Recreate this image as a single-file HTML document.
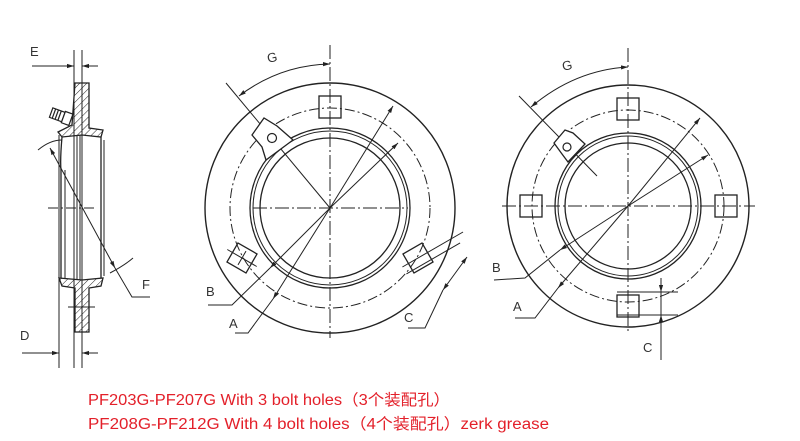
<!DOCTYPE html>
<html><head><meta charset="utf-8"><style>
html,body{margin:0;padding:0;background:#fff;}
svg{display:block}
.t{font-family:"Liberation Sans","Noto Sans CJK SC",sans-serif;font-size:15.5px;fill:#e3202a}
.l{font-family:"Liberation Sans",sans-serif;font-size:13px;fill:#333}
</style></head><body>
<svg width="800" height="441" viewBox="0 0 800 441" xmlns="http://www.w3.org/2000/svg">
<defs>
<marker id="a" viewBox="0 0 10 10" refX="10" refY="5" markerWidth="7" markerHeight="7" orient="auto-start-reverse"><path d="M0,2 L10,5 L0,8z" fill="#222"/></marker>
<pattern id="h" width="5" height="5" patternUnits="userSpaceOnUse" patternTransform="rotate(45)"><line x1="0" y1="0" x2="0" y2="5" stroke="#222" stroke-width="1"/></pattern>
</defs>
<rect width="800" height="441" fill="#fff"/>
<g stroke="#222" fill="none" stroke-width="1">
<!-- SIDE VIEW -->
<line x1="74" y1="50" x2="74" y2="368"/>
<line x1="82" y1="50" x2="82" y2="368"/>
<line x1="59" y1="135" x2="59" y2="368"/>
<line x1="32" y1="66" x2="74" y2="66" marker-end="url(#a)"/>
<line x1="98" y1="66" x2="82" y2="66" marker-end="url(#a)"/>
<line x1="22" y1="353" x2="59" y2="353" marker-end="url(#a)"/>
<line x1="98" y1="353" x2="82" y2="353" marker-end="url(#a)"/>
<path d="M75,83 H89 V128 L103,130 L101,137 L82,135 L62,137 L58,132 L72,125 Z" fill="url(#h)" stroke-width="1.3"/>
<path d="M59,278 L82,280 L103,278 L101,286 L89,288 V332 H75 V288 L62,286 Z" fill="url(#h)" stroke-width="1.3"/>
<path d="M62,137 Q60,160 61,170 V278" stroke-width="1.3"/>
<line x1="65" y1="170" x2="65" y2="278"/>
<line x1="77" y1="135" x2="77" y2="280"/>
<line x1="80" y1="135" x2="80" y2="280"/>
<line x1="101" y1="137" x2="101" y2="278" stroke-width="1.3"/>
<line x1="104" y1="140" x2="104" y2="276"/>
<line x1="48" y1="208" x2="97" y2="208" stroke-dasharray="10,3,2,3"/>
<line x1="68" y1="307" x2="95" y2="307"/>
<g transform="rotate(20 63 118)" stroke-width="1.2"><rect x="50" y="112" width="13" height="10" fill="#fff"/><rect x="63" y="111" width="8" height="12" fill="#fff"/><line x1="53" y1="112" x2="53" y2="122"/><line x1="56" y1="112" x2="56" y2="122"/><line x1="59" y1="112" x2="59" y2="122"/></g>
<path d="M38,150 Q50,140 62,140"/>
<path d="M110,273 Q125,265 133,258"/>
<line x1="50" y1="148" x2="115" y2="268" marker-start="url(#a)" marker-end="url(#a)"/>
<polyline points="115,268 132,297 150,297"/>
<!-- MIDDLE VIEW -->
<circle cx="330" cy="208" r="125" stroke-width="1.4"/>
<circle cx="330" cy="208" r="100" stroke-dasharray="10,3,2,3"/>
<circle cx="330" cy="208" r="80" stroke-width="1.3"/>
<circle cx="330" cy="208" r="77"/>
<circle cx="330" cy="208" r="70" stroke-width="1.3"/>
<line x1="330" y1="45" x2="330" y2="338" stroke-dasharray="14,3,2,3"/>
<line x1="253" y1="208" x2="408" y2="208" stroke-dasharray="14,3,2,3"/>
<rect x="319" y="96" width="22" height="22" stroke-width="1.3"/>
<g transform="rotate(30 242 258)"><rect x="231" y="247" width="22" height="22" stroke-width="1.3"/><line x1="225" y1="258" x2="259" y2="258"/><line x1="242" y1="250" x2="242" y2="266"/></g>
<g transform="rotate(-30 418 258)"><rect x="407" y="247" width="22" height="22" stroke-width="1.3"/><line x1="400" y1="258" x2="470" y2="258"/><line x1="400" y1="266" x2="462" y2="266"/></g>
<line x1="226" y1="83" x2="330" y2="208"/>
<path d="M252,135 L264,118 L277,126 L293,140 L266,160 L262,147 Z" fill="#fff" stroke-width="1.3"/>
<circle cx="272" cy="138" r="4.5" stroke-width="1.2"/>
<path d="M239,96 Q280,65 330,64" marker-start="url(#a)" marker-end="url(#a)"/>
<line x1="330" y1="208" x2="393" y2="106" marker-end="url(#a)"/>
<line x1="330" y1="208" x2="398" y2="143" marker-end="url(#a)"/>
<line x1="330" y1="208" x2="270" y2="268" marker-end="url(#a)"/>
<polyline points="270,268 232,305 208,305"/>
<line x1="330" y1="208" x2="273" y2="299" marker-end="url(#a)"/>
<polyline points="273,299 248,333 235,333"/>
<line x1="443" y1="290" x2="467" y2="257" marker-start="url(#a)" marker-end="url(#a)"/>
<polyline points="443,290 425,328 408,328"/>
<!-- RIGHT VIEW -->
<circle cx="628" cy="206" r="121" stroke-width="1.4"/>
<circle cx="628" cy="206" r="96" stroke-dasharray="10,3,2,3"/>
<circle cx="628" cy="206" r="73" stroke-width="1.3"/>
<circle cx="628" cy="206" r="70"/>
<circle cx="628" cy="206" r="63" stroke-width="1.3"/>
<line x1="628" y1="48" x2="628" y2="332" stroke-dasharray="14,3,2,3"/>
<line x1="502" y1="206" x2="755" y2="206" stroke-dasharray="14,3,2,3"/>
<rect x="617" y="98" width="22" height="22" stroke-width="1.3"/>
<rect x="617" y="295" width="22" height="22" stroke-width="1.3"/>
<rect x="520" y="195" width="22" height="22" stroke-width="1.3"/>
<rect x="715" y="195" width="22" height="22" stroke-width="1.3"/>
<line x1="617" y1="292" x2="678" y2="292"/>
<line x1="617" y1="315" x2="678" y2="315"/>
<line x1="519" y1="96" x2="597" y2="176"/>
<path d="M554,143 L565,130 L573,133 L585,144 L568,162 L562,154 Z" fill="#fff" stroke-width="1.3"/>
<circle cx="567" cy="147" r="4" stroke-width="1.2"/>
<path d="M531,107 Q575,70 628,67" marker-start="url(#a)" marker-end="url(#a)"/>
<line x1="628" y1="206" x2="700" y2="118" marker-end="url(#a)"/>
<line x1="628" y1="206" x2="708" y2="155" marker-end="url(#a)"/>
<line x1="628" y1="206" x2="560" y2="250" marker-end="url(#a)"/>
<polyline points="560,250 525,278 494,280"/>
<line x1="628" y1="206" x2="558" y2="288" marker-end="url(#a)"/>
<polyline points="558,288 535,318 515,318"/>
<line x1="661" y1="278" x2="661" y2="292" marker-end="url(#a)"/>
<line x1="661" y1="330" x2="661" y2="315" marker-end="url(#a)"/>
<line x1="661" y1="278" x2="661" y2="360"/>
</g>
<text class="l" x="30" y="56">E</text>
<text class="l" x="20" y="340">D</text>
<text class="l" x="142" y="289">F</text>
<text class="l" x="267" y="62" transform="rotate(-12 272 57)">G</text>
<text class="l" x="206" y="296">B</text>
<text class="l" x="229" y="328">A</text>
<text class="l" x="404" y="322">C</text>
<text class="l" x="562" y="70" transform="rotate(-12 567 65)">G</text>
<text class="l" x="492" y="272">B</text>
<text class="l" x="513" y="311">A</text>
<text class="l" x="643" y="352">C</text>
<text class="t" x="88" y="405" textLength="362" lengthAdjust="spacingAndGlyphs">PF203G-PF207G With 3 bolt holes（3个装配孔）</text>
<text class="t" x="88" y="429" textLength="461" lengthAdjust="spacingAndGlyphs">PF208G-PF212G With 4 bolt holes（4个装配孔）zerk grease</text>
</svg>
</body></html>
